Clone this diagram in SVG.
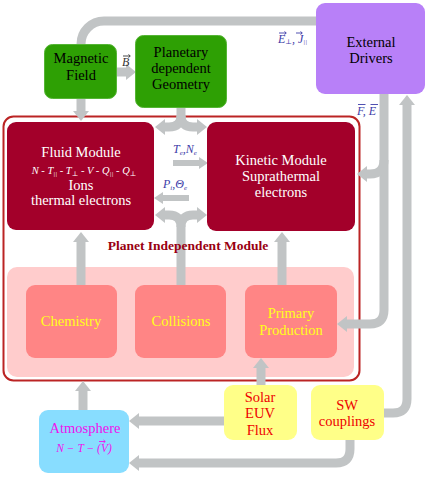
<svg xmlns="http://www.w3.org/2000/svg" width="427" height="478" viewBox="0 0 427 478">
<style>
.t{font-family:"Liberation Serif","DejaVu Serif",serif;font-size:14.5px;text-anchor:middle}
.k{fill:#000}
.w{fill:#fff}
.y{fill:#ffff1a}
.r{fill:#ee0000}
.m{fill:#ee11ee}
.lab{font-family:"Liberation Serif","DejaVu Serif",serif;font-style:italic;font-size:12px;fill:#3c3ca8}
.c{fill:none;stroke:#c1c4c5;stroke-width:9}
.cs{fill:none;stroke:#c1c4c5;stroke-width:6}
.acc{fill:none;stroke-width:0.9}
</style>
<defs>
<marker id="ah" viewBox="0 0 10 16" refX="0" refY="8" markerWidth="10" markerHeight="16" markerUnits="userSpaceOnUse" orient="auto">
<path d="M0,0 L10,8 L0,16 Z" fill="#c1c4c5"/>
</marker>
<marker id="as" viewBox="0 0 9 12" refX="0" refY="6" markerWidth="9" markerHeight="12" markerUnits="userSpaceOnUse" orient="auto">
<path d="M0,0 L9,6 L0,12 Z" fill="#c1c4c5"/>
</marker>
</defs>
<rect width="427" height="478" fill="#fff"/>

<g id="planet-independent-module">
<rect x="3.5" y="116.5" width="356" height="264" rx="10" fill="#fff" stroke="#bb2424" stroke-width="2"/>
<rect x="7" y="267" width="347" height="110" rx="10" fill="#ffcccc"/>
</g>

<g id="connectors">
<path class="c" d="M318,21 H104 A23,23 0 0 0 81,44 V48"/>
<path class="c" d="M117,72 H126" marker-end="url(#ah)"/>
<path class="c" d="M81,99 V111" marker-end="url(#ah)"/>
<path class="c" d="M181,106 V115 Q181,127 169,127 H165" marker-end="url(#ah)"/>
<path class="c" d="M181,115 Q181,127 193,127 H197" marker-end="url(#ah)"/>
<path class="cs" d="M173,163 H199" marker-end="url(#as)"/>
<path class="cs" d="M189,198 H163" marker-end="url(#as)"/>
<path class="c" d="M181,287 V227 Q181,215 169,215 H165" marker-end="url(#ah)"/>
<path class="c" d="M181,227 Q181,215 193,215 H197" marker-end="url(#ah)"/>
<path class="c" d="M81,287 V242" marker-end="url(#ah)"/>
<path class="c" d="M282,287 V242" marker-end="url(#ah)"/>
<path class="c" d="M384,92 V310 Q384,324 370,324 H347" marker-end="url(#ah)"/>
<path class="c" d="M384,160 Q384,174 370,174 H367" marker-end="url(#ah)"/>
<path class="c" d="M382,413 H393 Q407,413 407,399 V105" marker-end="url(#ah)"/>
<path class="c" d="M261,387 V368" marker-end="url(#ah)"/>
<path class="c" d="M226,421 H139" marker-end="url(#ah)"/>
<path class="c" d="M350,438 V449 Q350,463 336,463 H139" marker-end="url(#ah)"/>
<path class="c" d="M83,412 V391" marker-end="url(#ah)"/>
</g>

<g id="magnetic-field">
<rect x="44.5" y="44.5" width="72" height="54" rx="8" fill="#2ea004" stroke="#55b535" stroke-width="1"/>
<text class="t k" x="81" y="63">Magnetic</text>
<text class="t k" x="81" y="80">Field</text>
</g>

<g id="planetary-geometry">
<rect x="135.5" y="35.5" width="91" height="72" rx="8" fill="#2ea004" stroke="#55b535" stroke-width="1"/>
<text class="t k" x="181" y="57">Planetary</text>
<text class="t k" x="181" y="73">dependent</text>
<text class="t k" x="181" y="89">Geometry</text>
</g>

<g id="external-drivers">
<rect x="316" y="3" width="109" height="91" rx="9" fill="#b880f8"/>
<text class="t k" x="371" y="47">External</text>
<text class="t k" x="371" y="63">Drivers</text>
</g>

<g id="fluid-module">
<rect x="7" y="122" width="147" height="108" rx="9" fill="#a3002a"/>
<text class="t w" x="81" y="157">Fluid Module</text>
<text class="w" x="84" y="174" style="font-family:'Liberation Serif','DejaVu Serif',serif;font-style:italic;font-size:10.5px;text-anchor:middle">N - T<tspan font-size="7" dy="2">||</tspan><tspan dy="-2"> - T</tspan><tspan font-size="7" dy="2">⊥</tspan><tspan dy="-2"> - V - Q</tspan><tspan font-size="7" dy="2">||</tspan><tspan dy="-2"> - Q</tspan><tspan font-size="7" dy="2">⊥</tspan></text>
<text class="t w" x="81" y="190">Ions</text>
<text class="t w" x="81" y="205">thermal electrons</text>
</g>

<g id="kinetic-module">
<rect x="207" y="122" width="148" height="109" rx="9" fill="#a3002a"/>
<text class="t w" x="281" y="165">Kinetic Module</text>
<text class="t w" x="281" y="181">Suprathermal</text>
<text class="t w" x="281" y="197">electrons</text>
</g>

<g id="chemistry">
<rect x="26" y="285" width="91" height="73" rx="9" fill="#ff8585"/>
<text class="t y" x="71" y="326">Chemistry</text>
</g>

<g id="collisions">
<rect x="135" y="285" width="91" height="73" rx="9" fill="#ff8585"/>
<text class="t y" x="181" y="326">Collisions</text>
</g>

<g id="primary-production">
<rect x="245" y="285" width="92" height="73" rx="9" fill="#ff8585"/>
<text class="t y" x="291" y="318">Primary</text>
<text class="t y" x="291" y="335">Production</text>
</g>

<g id="solar-euv-flux">
<rect x="224" y="385" width="73" height="55" rx="9" fill="#ffff88"/>
<text class="t r" x="260" y="402">Solar</text>
<text class="t r" x="260" y="418">EUV</text>
<text class="t r" x="260" y="435">Flux</text>
</g>

<g id="sw-couplings">
<rect x="311" y="385" width="73" height="55" rx="9" fill="#ffff88"/>
<text class="t r" x="347" y="410">SW</text>
<text class="t r" x="347" y="426">couplings</text>
</g>

<g id="atmosphere">
<rect x="39" y="410" width="90" height="63" rx="9" fill="#88ddff"/>
<text class="t m" x="85" y="433">Atmosphere</text>
<text class="m" x="84" y="452" style="font-family:'Liberation Serif','DejaVu Serif',serif;font-style:italic;font-size:11.5px;text-anchor:middle">N − T − (V)</text>
<path class="acc" stroke="#ee11ee" d="M99,441.5 H105 M103.5,440 L105.3,441.5 L103.5,443"/>
</g>

<g id="labels">
<text x="188" y="250" style="font-family:'Liberation Serif','DejaVu Serif',serif;font-weight:bold;font-size:13.5px;fill:#990011;text-anchor:middle">Planet Independent Module</text>
<text class="lab" x="122" y="66" style="fill:#333">B</text>
<path class="acc" stroke="#333" d="M123,56 H130 M128.5,54.5 L130.3,56 L128.5,57.5"/>
<text class="lab" x="278" y="43">E<tspan font-size="7" dy="1">⊥</tspan><tspan dy="-1">, J</tspan><tspan font-size="7" dy="1">||</tspan></text>
<path class="acc" stroke="#3c3ca8" d="M279,33 H286 M284.5,31.5 L286.3,33 L284.5,34.5 M296,33 H302 M300.5,31.5 L302.3,33 L300.5,34.5"/>
<text class="lab" x="357" y="115">F, E</text>
<path class="acc" stroke="#3c3ca8" d="M358,104.5 H365.5 M370.5,104.5 H378"/>
<text class="lab" x="173" y="153">T<tspan font-size="7" dy="2">e</tspan><tspan dy="-2">,N</tspan><tspan font-size="7" dy="2">e</tspan></text>
<text class="lab" x="163" y="188">P<tspan font-size="7" dy="2">i</tspan><tspan dy="-2">,Θ</tspan><tspan font-size="7" dy="2">e</tspan></text>
</g>
</svg>
